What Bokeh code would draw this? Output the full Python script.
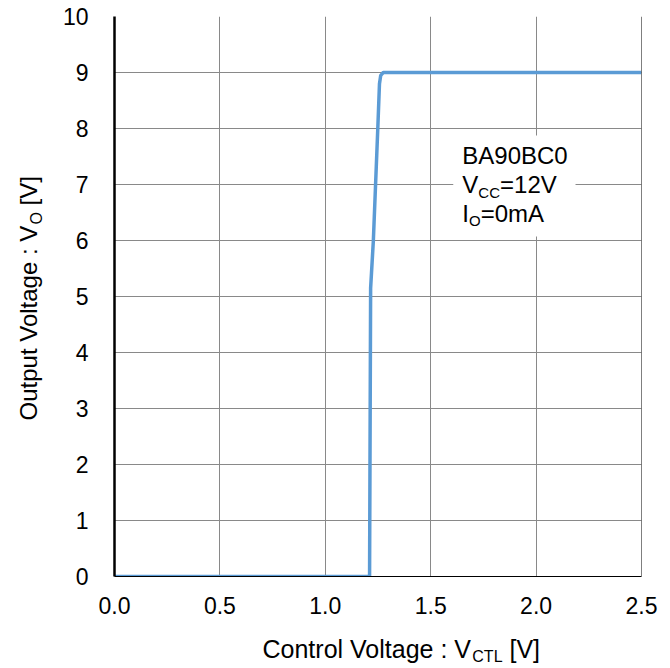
import math
from bokeh.plotting import figure
from bokeh.layouts import row, column
from bokeh.models import Range1d, FixedTicker, Label, BoxAnnotation, Span
from bokeh.embed import file_html
from bokeh.resources import INLINE

# ---- data ----
x_ctl = [0.0, 1.21, 1.215, 1.228, 1.249, 1.257, 1.263, 1.275, 2.5]
y_out = [0.0, 0.0, 5.15, 6.0, 8.0, 8.8, 8.95, 9.0, 9.0]
x_ticks = [0.0, 0.5, 1.0, 1.5, 2.0, 2.5]
x_tick_labels = ["0.0", "0.5", "1.0", "1.5", "2.0", "2.5"]
y_ticks = [0, 1, 2, 3, 4, 5, 6, 7, 8, 9, 10]
ann_lines = ["BA90BC0", ("V", "CC", "=12V"), ("I", "O", "=0mA")]
x_title = ("Control Voltage : V", "CTL", "[V]")
y_title = ("Output Voltage : V", "O", "[V]")

FONT = "Liberation Sans"
BLUE = "#5B9BD5"
GRID = "#898989"

W_LEFT = 50   # width of the y-title strip
H_BOT = 36    # height of the x-title strip
TOTAL_W, TOTAL_H = 670, 668
B_LEFT, B_RIGHT, B_TOP, B_BOT = 64, 29, 16, 56
SHIFT = 8.5   # label baseline correction (px, toward text's "up")
SUB_DROP = 3  # extra drop for the smaller subscript texts

p = figure(width=TOTAL_W - W_LEFT, height=TOTAL_H - H_BOT, output_backend="svg",
           toolbar_location=None, title=None, x_range=Range1d(0, 2.5), y_range=Range1d(0, 10),
           min_border_left=B_LEFT, min_border_right=B_RIGHT,
           min_border_top=B_TOP, min_border_bottom=B_BOT)
p.outline_line_color = None
p.background_fill_color = "white"
p.border_fill_color = "white"

# grids
p.xgrid.ticker = FixedTicker(ticks=x_ticks)
p.ygrid.ticker = FixedTicker(ticks=y_ticks)
for g in (p.xgrid, p.ygrid):
    g.grid_line_color = GRID
    g.grid_line_width = 1

# axes
p.xaxis.ticker = FixedTicker(ticks=x_ticks)
p.xaxis.major_label_overrides = {t: l for t, l in zip(x_ticks, x_tick_labels)}
p.yaxis.ticker = FixedTicker(ticks=y_ticks)
for ax in (p.xaxis, p.yaxis):
    ax.major_tick_in = 0
    ax.major_tick_out = 0
    ax.minor_tick_in = 0
    ax.minor_tick_out = 0
    ax.major_label_text_font = FONT
    ax.major_label_text_font_size = "23px"
    ax.major_label_text_color = "black"
    ax.axis_line_color = "black"
p.yaxis.axis_line_width = 2.5
p.xaxis.axis_line_width = 1
p.xaxis.major_label_standoff = 20
p.yaxis.major_label_standoff = 26

# right frame edge
p.add_layout(Span(location=2.5, dimension="height", line_color="black", line_width=1))

# curve
p.line(x_ctl, y_out, line_color=BLUE, line_width=3.5)

# annotation box
p.add_layout(BoxAnnotation(left=1.607, right=2.187, bottom=6.07, top=7.875,
                           fill_color="white", fill_alpha=1.0, line_color=None))


def lab(fig, text, x, y, size, xo=0, yo=0, angle=0.0):
    fig.add_layout(Label(x=x, y=y, text=text, x_offset=xo, y_offset=yo, angle=angle,
                         text_font=FONT, text_font_size=size, text_color="black",
                         text_align="left", text_baseline="alphabetic"))


ANN_X, ANN_Y = 1.65, 7.4
S = 7
lab(p, ann_lines[0], ANN_X, ANN_Y, "24px", 0, S)
main, sub, tail = ann_lines[1]
lab(p, main, ANN_X, ANN_Y, "24px", 0, S - 29)
lab(p, sub, ANN_X, ANN_Y, "15px", 16, S - 34 - SUB_DROP)
lab(p, tail, ANN_X, ANN_Y, "24px", 37.7, S - 29)
main, sub, tail = ann_lines[2]
lab(p, main, ANN_X, ANN_Y, "24px", 0, S - 58)
lab(p, sub, ANN_X, ANN_Y, "15px", 6.7, S - 62 - SUB_DROP)
lab(p, tail, ANN_X, ANN_Y, "24px", 18.4, S - 58)


def strip(w, h, bl, br, bt, bb):
    f = figure(width=w, height=h, output_backend="svg", toolbar_location=None, title=None,
               x_range=Range1d(0, w - bl - br), y_range=Range1d(0, h - bt - bb),
               x_axis_location=None, y_axis_location=None,
               min_border_left=bl, min_border_right=br, min_border_top=bt, min_border_bottom=bb)
    f.grid.visible = False
    f.outline_line_color = None
    f.background_fill_color = "white"
    f.border_fill_color = "white"
    return f


# x-axis title strip: frame aligned horizontally with the main frame
LEFT_EDGE = W_LEFT + B_LEFT
xf = strip(TOTAL_W, H_BOT, LEFT_EDGE, B_RIGHT, 0, 0)
xs, base = 262 - LEFT_EDGE, 11.3 + SHIFT
lab(xf, x_title[0], xs, base, "25px")
lab(xf, x_title[1], xs + 209.8, base - 4.3 - SUB_DROP, "16px")
lab(xf, x_title[2], xs + 247.0, base, "25px")

# y-axis title strip: frame aligned vertically with the main frame (rotated text)
yf = strip(W_LEFT, TOTAL_H - H_BOT, 0, 0, B_TOP, B_BOT)
A = math.pi / 2
bx, start = 36.5 - SHIFT, (TOTAL_H - H_BOT - B_BOT) - 420
lab(yf, y_title[0], bx, start, "24px", angle=A)
lab(yf, y_title[1], bx + 5 + SUB_DROP, start + 196.1, "16px", angle=A)
lab(yf, y_title[2], bx, start + 215.0, "24px", angle=A)

layout = column(row(yf, p), xf)
open("out.html", "w").write(file_html(layout, INLINE))
